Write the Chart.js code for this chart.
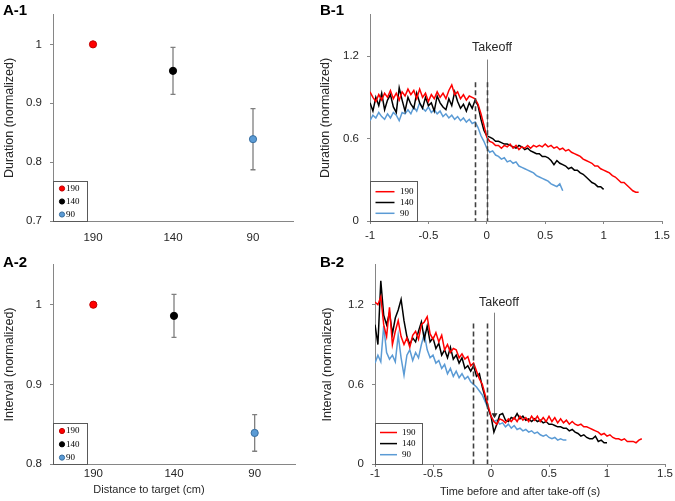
<!DOCTYPE html>
<html>
<head>
<meta charset="utf-8">
<script src="https://cdn.jsdelivr.net/npm/chart.js@4.4.1/dist/chart.umd.min.js"></script>
<style>
  body { margin: 0; background: #fff; }
  #fig { position: relative; width: 675px; height: 501px; overflow: hidden; font-family: "Liberation Sans", Arial, sans-serif; }
  #fig canvas { position: absolute; }
  .tag { position: absolute; font-weight: bold; font-size: 15px; line-height: 15px; color: #000; }
</style>
</head>
<body>
<div id="fig">
  <canvas id="a1" width="320" height="250" style="left:0;top:0"></canvas>
  <canvas id="a2" width="320" height="251" style="left:0;top:250px"></canvas>
  <canvas id="b1" width="360" height="250" style="left:315px;top:0"></canvas>
  <canvas id="b2" width="360" height="251" style="left:315px;top:250px"></canvas>
  <div class="tag" style="left:3px;top:2px">A-1</div>
  <div class="tag" style="left:320px;top:2px">B-1</div>
  <div class="tag" style="left:3px;top:254px">A-2</div>
  <div class="tag" style="left:320px;top:254px">B-2</div>
</div>
<script>
// ---- data ----
const distanceLabels = ["190", "140", "90"];
const durationMeans = [1.0, 0.955, 0.839];
const durationErrors = [0, 0.04, 0.052];
const intervalMeans = [1.0, 0.986, 0.839];
const intervalErrors = [0, 0.027, 0.023];

const durationTicks = [0.7, 0.8, 0.9, 1];
const intervalTicks = [0.8, 0.9, 1];
const normTicks = [0, 0.6, 1.2];
const timeTicks = [-1, -0.5, 0, 0.5, 1, 1.5];

const timeGrid = [-1, -0.975, -0.95, -0.925, -0.9, -0.875, -0.85, -0.825, -0.8, -0.775,
  -0.75, -0.725, -0.7, -0.675, -0.65, -0.625, -0.6, -0.575, -0.55, -0.525,
  -0.5, -0.475, -0.45, -0.425, -0.4, -0.375, -0.35, -0.325, -0.3, -0.275,
  -0.25, -0.225, -0.2, -0.175, -0.15, -0.125, -0.1, -0.075, -0.05, -0.025,
  0, 0.025, 0.05, 0.075, 0.1, 0.125, 0.15, 0.175, 0.2, 0.225,
  0.25, 0.275, 0.3, 0.325, 0.35, 0.375, 0.4, 0.425, 0.45, 0.475,
  0.5, 0.525, 0.55, 0.575, 0.6, 0.625, 0.65, 0.675, 0.7, 0.725,
  0.75, 0.775, 0.8, 0.825, 0.85, 0.875, 0.9, 0.925, 0.95, 0.975,
  1, 1.025, 1.05, 1.075, 1.1, 1.125, 1.15, 1.175, 1.2, 1.225,
  1.25, 1.275, 1.3];

// B-1 duration traces
const dur190 = [0.94, 0.90, 0.87, 0.92, 0.88, 0.93, 0.90, 0.95, 0.89, 0.93,
  0.88, 0.94, 0.91, 0.96, 0.92, 0.95, 0.89, 0.96, 0.90, 0.93,
  0.87, 0.92, 0.89, 0.94, 0.90, 0.93, 0.89, 0.95, 0.99, 0.92,
  0.94, 0.89, 0.92, 0.88, 0.91, 0.90, 0.89, 0.85, 0.78, 0.70,
  0.61, 0.58, 0.57, 0.55, 0.55, 0.53, 0.55, 0.54, 0.56, 0.53,
  0.55, 0.52, 0.54, 0.53, 0.55, 0.53, 0.55, 0.54, 0.55, 0.54,
  0.56, 0.54, 0.55, 0.53, 0.54, 0.52, 0.53, 0.51, 0.52, 0.50,
  0.49, 0.48, 0.47, 0.45, 0.44, 0.43, 0.42, 0.40, 0.40, 0.38,
  0.37, 0.36, 0.35, 0.33, 0.32, 0.30, 0.28, 0.28, 0.26, 0.24,
  0.22, 0.21, 0.21];
const dur140 = [0.86, 0.80, 0.90, 0.84, 0.93, 0.81, 0.88, 0.92, 0.83, 0.79,
  0.97, 0.88, 0.80, 0.90, 0.85, 0.82, 0.93, 0.86, 0.82, 0.90,
  0.84, 0.86, 0.80, 0.91, 0.86, 0.83, 0.81, 0.89, 0.84, 0.94,
  0.87, 0.82, 0.85, 0.80, 0.86, 0.82, 0.88, 0.84, 0.74, 0.66,
  0.62, 0.61, 0.60, 0.58, 0.58, 0.57, 0.56, 0.56, 0.55, 0.54,
  0.53, 0.55, 0.54, 0.52, 0.53, 0.51, 0.50, 0.49, 0.49, 0.47,
  0.47, 0.46, 0.44, 0.41, 0.44, 0.42, 0.41, 0.40, 0.38, 0.39,
  0.37, 0.37, 0.35, 0.34, 0.32, 0.30, 0.28, 0.27, 0.25, 0.25,
  0.23];
const dur90 = [0.73, 0.77, 0.75, 0.79, 0.76, 0.74, 0.78, 0.75, 0.79, 0.77,
  0.73, 0.79, 0.78, 0.81, 0.78, 0.83, 0.80, 0.86, 0.82, 0.80,
  0.83, 0.79, 0.81, 0.78, 0.80, 0.76, 0.78, 0.75, 0.77, 0.74,
  0.76, 0.73, 0.75, 0.72, 0.74, 0.71, 0.72, 0.68, 0.62, 0.58,
  0.53, 0.50, 0.51, 0.48, 0.47, 0.45, 0.46, 0.43, 0.44, 0.42,
  0.43, 0.40, 0.39, 0.38, 0.37, 0.36, 0.35, 0.33, 0.32, 0.31,
  0.30, 0.29, 0.27, 0.26, 0.25, 0.27, 0.22];

// B-2 interval traces
const int190 = [1.22, 1.20, 1.26, 1.05, 0.96, 1.18, 0.90, 1.00, 1.08, 0.96,
  0.90, 0.95, 0.88, 0.97, 1.00, 0.94, 1.05, 1.07, 1.11, 0.98,
  0.94, 0.99, 0.92, 0.97, 0.86, 0.90, 0.84, 0.87, 0.86, 0.80,
  0.83, 0.79, 0.81, 0.74, 0.76, 0.70, 0.64, 0.60, 0.52, 0.44,
  0.36, 0.32, 0.30, 0.34, 0.33, 0.31, 0.34, 0.32, 0.35, 0.32,
  0.36, 0.33, 0.35, 0.32, 0.36, 0.33, 0.36, 0.32, 0.35, 0.32,
  0.36, 0.32, 0.35, 0.31, 0.34, 0.31, 0.33, 0.30, 0.32, 0.30,
  0.29, 0.30, 0.28, 0.28, 0.27, 0.26, 0.25, 0.24, 0.22, 0.23,
  0.21, 0.22, 0.20, 0.19, 0.19, 0.18, 0.19, 0.17, 0.17, 0.17,
  0.16, 0.18, 0.19];
const int140 = [1.05, 0.90, 1.38, 1.12, 1.05, 1.14, 0.98, 1.10, 1.16, 1.24,
  1.08, 0.96, 0.90, 0.95, 0.92, 1.00, 1.07, 0.94, 1.04, 0.92,
  0.95, 0.87, 0.91, 0.82, 0.86, 0.80, 0.88, 0.79, 0.82, 0.76,
  0.80, 0.72, 0.74, 0.70, 0.74, 0.66, 0.68, 0.58, 0.50, 0.42,
  0.36, 0.24, 0.30, 0.37, 0.38, 0.33, 0.32, 0.35, 0.34, 0.38,
  0.34, 0.36, 0.33, 0.34, 0.32, 0.34, 0.32, 0.33, 0.31, 0.32,
  0.30, 0.30, 0.29, 0.28, 0.28, 0.27, 0.27, 0.25, 0.26, 0.24,
  0.23, 0.21, 0.22, 0.20, 0.19, 0.19, 0.21, 0.17, 0.18, 0.16,
  0.16];
const int90 = [0.76, 0.82, 0.77, 1.04, 0.84, 0.79, 0.82, 0.77, 0.97, 0.80,
  0.67, 0.82, 0.86, 0.78, 0.84, 0.80, 0.90, 0.98, 0.86, 0.80,
  0.82, 0.76, 0.78, 0.72, 0.75, 0.68, 0.72, 0.66, 0.70, 0.65,
  0.68, 0.64, 0.66, 0.62, 0.60, 0.58, 0.55, 0.52, 0.47, 0.42,
  0.36, 0.32, 0.33, 0.30, 0.31, 0.28, 0.30, 0.27, 0.29, 0.26,
  0.27, 0.25, 0.26, 0.24, 0.25, 0.23, 0.24, 0.22, 0.21, 0.22,
  0.20, 0.19, 0.20, 0.18, 0.19, 0.18, 0.18];

// event markers (s)
const durationMarks = { dashed: [-0.105, 0], dashTop: 1.01, solid: 0, solidTop: 1.175, solidEnd: 0, arrow: false, labelX: 0.045, labelY: 1.26 };
const intervalMarks = { dashed: [-0.153, -0.037], dashTop: 1.058, solid: 0.028, solidTop: 1.14, solidEnd: 0.345, arrow: true, labelX: 0.069, labelY: 1.216 };

// ---- styling ----
const FONT = '"Liberation Sans", Arial, sans-serif';
const TEXT = "#262626";
const AXIS = "#868686";
const colors = ["#ff0000", "#000000", "#5b9bd5"];
const edges = ["#c00000", "#000000", "#3a6fa0"];

const errorBars = {
  id: "errorBars",
  beforeDatasetsDraw(chart, args, opts) {
    if (!opts.means) return;
    const { ctx } = chart;
    const xs = chart.scales.x, ys = chart.scales.y;
    ctx.save();
    ctx.strokeStyle = "#7f7f7f";
    ctx.lineWidth = 1.3;
    opts.means.forEach((m, j) => {
      const e = opts.errors[j];
      if (!e) return;
      const x = xs.getPixelForValue(j);
      const t = ys.getPixelForValue(m + e), b = ys.getPixelForValue(m - e);
      ctx.beginPath();
      ctx.moveTo(x, t); ctx.lineTo(x, b);
      ctx.moveTo(x - 2.5, t); ctx.lineTo(x + 2.5, t);
      ctx.moveTo(x - 2.5, b); ctx.lineTo(x + 2.5, b);
      ctx.stroke();
    });
    ctx.restore();
  },
};

const boxLegend = {
  id: "boxLegend",
  afterDraw(chart, args, o) {
    if (!o.w) return;
    const { ctx, chartArea } = chart;
    const x0 = chartArea.left, top = chartArea.bottom - o.h;
    ctx.save();
    ctx.fillStyle = "#fff";
    ctx.fillRect(x0 + 1, top, o.w, o.h);
    ctx.strokeStyle = "#595959";
    ctx.lineWidth = 1;
    ctx.strokeRect(Math.round(x0) + 0.5, Math.round(top) + 0.5, o.w, o.h);
    ctx.font = '9px "Liberation Serif", "Times New Roman", serif';
    ctx.textBaseline = "middle";
    chart.data.datasets.forEach((ds, i) => {
      const y = top + o.first + i * o.gap;
      if (o.line) {
        ctx.strokeStyle = ds.borderColor;
        ctx.lineWidth = 1.5;
        ctx.beginPath();
        ctx.moveTo(x0 + o.symX, y); ctx.lineTo(x0 + o.symX + o.line, y);
        ctx.stroke();
      } else {
        ctx.fillStyle = ds.pointBackgroundColor;
        ctx.strokeStyle = ds.pointBorderColor;
        ctx.beginPath();
        ctx.arc(x0 + o.symX, y, 2.6, 0, Math.PI * 2);
        ctx.fill(); ctx.stroke();
      }
      ctx.fillStyle = "#000";
      ctx.fillText(ds.label, x0 + o.textX, y);
    });
    ctx.restore();
  },
};

const takeoffMarks = {
  id: "takeoffMarks",
  afterDatasetsDraw(chart, args, m) {
    if (!m.dashed) return;
    const { ctx } = chart;
    const xs = chart.scales.x, ys = chart.scales.y;
    ctx.save();
    // solid takeoff line first, dashed guides over it
    ctx.strokeStyle = "#7f7f7f";
    ctx.lineWidth = 1;
    const sx = Math.round(xs.getPixelForValue(m.solid)) + 0.5;
    const tip = ys.getPixelForValue(m.solidEnd);
    ctx.beginPath();
    ctx.moveTo(sx, ys.getPixelForValue(m.solidTop));
    ctx.lineTo(sx, m.arrow ? tip - 4 : tip);
    ctx.stroke();
    if (m.arrow) {
      ctx.fillStyle = "#262626";
      ctx.beginPath();
      ctx.moveTo(sx - 3, tip - 5); ctx.lineTo(sx + 3, tip - 5); ctx.lineTo(sx, tip);
      ctx.closePath(); ctx.fill();
    }
    ctx.strokeStyle = "#404040";
    ctx.lineWidth = 1.6;
    ctx.setLineDash([5, 3]);
    m.dashed.forEach((t) => {
      const x = Math.round(xs.getPixelForValue(t)) + 0.5;
      ctx.beginPath();
      ctx.moveTo(x, ys.getPixelForValue(m.dashTop));
      ctx.lineTo(x, ys.getPixelForValue(0));
      ctx.stroke();
    });
    ctx.setLineDash([]);
    ctx.fillStyle = TEXT;
    ctx.font = "12.5px " + FONT;
    ctx.textAlign = "center";
    ctx.textBaseline = "middle";
    ctx.fillText("Takeoff", xs.getPixelForValue(m.labelX), ys.getPixelForValue(m.labelY));
    ctx.restore();
  },
};

const looseTitle = {
  id: "looseTitle",
  afterDraw(chart, args, o) {
    if (!o.text) return;
    const { ctx, chartArea } = chart;
    ctx.save();
    ctx.fillStyle = TEXT;
    ctx.font = "11px " + FONT;
    ctx.textAlign = "center";
    ctx.textBaseline = "middle";
    ctx.fillText(o.text, chartArea.left + o.dx, o.y);
    ctx.restore();
  },
};

Chart.register(errorBars, boxLegend, takeoffMarks, looseTitle);

function yAxis(min, ticks, title, width, titleSize, titlePad) {
  return {
    type: "linear",
    min: min,
    max: min < 0.5 ? 1.5 : 1.05,
    afterBuildTicks: (s) => { s.ticks = ticks.map((v) => ({ value: v })); },
    afterFit: (s) => { s.width = width; },
    grid: { drawOnChartArea: false, drawTicks: true, tickLength: 3, color: AXIS },
    border: { color: AXIS, width: 1 },
    ticks: { font: { family: FONT, size: 11.5 }, color: TEXT, padding: 8, callback: (v) => String(v) },
    title: { display: true, text: title, color: TEXT, font: { family: FONT, size: titleSize }, padding: { top: titlePad, bottom: 0 } },
  };
}

function distanceChart(id, means, errors, yMin, yTicks, yTitle, pad, xHeight, xPad, legend, xTitle) {
  return new Chart(document.getElementById(id), {
    type: "line",
    data: {
      labels: distanceLabels,
      datasets: distanceLabels.map((lab, i) => ({
        label: lab,
        data: means.map((v, j) => (j === i ? v : null)),
        showLine: false,
        pointRadius: 3.6,
        pointHoverRadius: 3.6,
        pointBackgroundColor: colors[i],
        pointBorderColor: edges[i],
        pointBorderWidth: 1,
      })),
    },
    options: {
      responsive: false,
      animation: false,
      events: [],
      layout: { padding: pad },
      scales: {
        x: {
          type: "category",
          offset: true,
          afterFit: (s) => { s.height = xHeight; },
          grid: { display: false, drawTicks: false },
          border: { color: AXIS, width: 1 },
          ticks: { font: { family: FONT, size: 11.5 }, color: TEXT, padding: xPad },
        },
        y: yAxis(yMin, yTicks, yTitle, 53, 12.5, 2),
      },
      plugins: {
        legend: { display: false },
        tooltip: { enabled: false },
        errorBars: { means: means, errors: errors },
        boxLegend: legend,
        looseTitle: xTitle || {},
      },
    },
  });
}

function traces(values) {
  return values.map((v, i) => ({ x: timeGrid[i], y: v }));
}

function timeChart(id, series, yTitle, yWidth, titlePad, pad, xHeight, xPad, marks, legend, xTitle) {
  return new Chart(document.getElementById(id), {
    type: "line",
    data: {
      datasets: series.map((vals, i) => ({
        label: distanceLabels[i],
        data: traces(vals),
        borderColor: colors[i],
        borderWidth: 1.5,
        pointRadius: 0,
        tension: 0,
        fill: false,
      })),
    },
    options: {
      responsive: false,
      animation: false,
      events: [],
      layout: { padding: pad },
      scales: {
        x: {
          type: "linear",
          min: -1,
          max: 1.5,
          afterBuildTicks: (s) => { s.ticks = timeTicks.map((v) => ({ value: v })); },
          afterFit: (s) => { s.height = xHeight; },
          grid: { drawOnChartArea: false, drawTicks: true, tickLength: 3, color: AXIS },
          border: { color: AXIS, width: 1 },
          ticks: { font: { family: FONT, size: 11.5 }, color: TEXT, padding: xPad, callback: (v) => String(v) },
          title: xTitle
            ? { display: true, text: xTitle, color: TEXT, font: { family: FONT, size: 11 }, padding: { top: 0, bottom: 2 } }
            : { display: false },
        },
        y: yAxis(0, normTicks, yTitle, yWidth, 12.5, titlePad),
      },
      plugins: {
        legend: { display: false },
        tooltip: { enabled: false },
        takeoffMarks: marks,
        boxLegend: legend,
      },
    },
  });
}

distanceChart("a1", durationMeans, durationErrors, 0.7, durationTicks, "Duration (normalized)",
  { top: 10, right: 27 }, 29, 10,
  { w: 34, h: 40, first: 7.5, gap: 13, symX: 9, textX: 13 });

distanceChart("a2", intervalMeans, intervalErrors, 0.8, intervalTicks, "Interval (normalized)",
  { top: 12, right: 25 }, 37, 3,
  { w: 34, h: 41, first: 8, gap: 13.3, symX: 9, textX: 13 },
  { text: "Distance to target (cm)", dx: 96, y: 239.5 });

timeChart("b1", [dur190, dur140, dur90], "Duration (normalized)", 55, 3.5,
  { top: 9, right: 10 }, 29, 5, durationMarks,
  { w: 47, h: 40, first: 10.7, gap: 10.8, symX: 5.5, line: 19, textX: 30 });

timeChart("b2", [int190, int140, int90], "Interval (normalized)", 60, 5,
  { top: 11, right: 10 }, 37, 0, intervalMarks,
  { w: 47, h: 41, first: 9.5, gap: 11.1, symX: 5, line: 17, textX: 27 },
  "Time before and after take-off (s)");
</script>
</body>
</html>
